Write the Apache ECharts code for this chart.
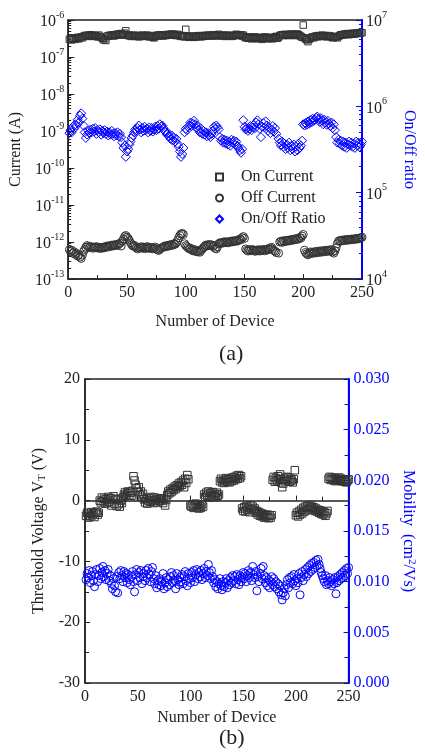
<!DOCTYPE html>
<html>
<head>
<meta charset="utf-8">
<script src="https://cdn.jsdelivr.net/npm/echarts@6/dist/echarts.min.js"></script>
<style>
  html, body { margin: 0; padding: 0; background: #fff; }
  #chart { width: 425px; height: 752px; }
</style>
</head>
<body>
<div id="chart"></div>
<script>
// Device index runs 1..250 for every series below.

// (a) On current, in units of 1e-7 A
const onCurrentE7 = [
  3.0, 3.2, 2.9, 3.1, 3.3, 3.0, 3.2, 3.4, 3.1, 3.3,
  3.5, 3.3, 3.6, 3.8, 3.7, 3.9, 3.6, 3.8, 4.0, 3.7,
  3.9, 3.6, 3.8, 3.7, 3.5, 3.9, 3.6, 3.4, 3.2, 2.9,
  3.1, 2.8, 3.6, 3.8, 3.7, 3.9, 3.8, 4.0, 3.7, 3.9,
  4.1, 3.9, 4.2, 4.0, 4.3, 3.9, 4.1, 4.4, 5.1, 4.0,
  3.8, 3.9, 3.6, 3.8, 3.7, 3.9, 3.6, 3.8, 3.7, 3.5,
  3.8, 3.6, 3.9, 3.7, 3.8, 3.6, 3.9, 3.7, 3.5, 3.8,
  3.6, 3.4, 3.3, 3.6, 3.8, 3.9, 3.7, 4.0, 3.8, 3.9,
  3.7, 4.0, 3.8, 3.9, 4.1, 3.9, 4.0, 4.2, 3.9, 4.1,
  4.0, 3.8, 4.1, 3.9, 3.7, 3.6, 3.8, 3.6, 3.5, 5.6,
  3.7, 3.5, 3.4, 3.6, 3.5, 3.7, 3.4, 3.6, 3.5, 3.7,
  3.6, 3.8, 3.5, 3.7, 3.6, 3.8, 3.7, 3.9, 3.7, 3.8,
  3.9, 3.7, 3.8, 4.0, 3.9, 3.7, 3.8, 4.1, 3.9, 3.8,
  3.7, 3.9, 3.8, 3.6, 3.8, 3.9, 3.7, 3.8, 3.6, 3.7,
  3.8, 3.9, 4.1, 4.0, 3.8, 3.9, 4.0, 3.7, 3.9, 3.5,
  3.3, 3.4, 3.2, 3.5, 3.3, 3.1, 3.4, 3.2, 3.5, 3.3,
  3.1, 3.3, 3.4, 3.2, 3.0, 3.3, 3.5, 3.2, 3.4, 3.1,
  3.3, 3.2, 3.4, 3.1, 3.3, 3.5, 3.6, 3.2, 3.4, 3.8,
  3.9, 4.0, 3.8, 4.1, 3.9, 4.0, 3.8, 4.1, 3.9, 4.2,
  4.0, 3.8, 4.1, 3.9, 4.2, 4.0, 3.8, 3.6, 3.4, 7.3,
  3.3, 3.1, 2.9, 2.6, 3.0, 3.2, 3.4, 3.5, 3.3, 3.6,
  3.7, 3.5, 3.8, 3.6, 3.7, 3.9, 3.6, 3.8, 3.7, 3.5,
  3.8, 3.6, 3.7, 3.5, 3.3, 3.4, 3.6, 3.5, 3.3, 3.6,
  3.8, 4.0, 3.9, 4.1, 4.0, 4.2, 4.1, 4.3, 4.0, 4.2,
  4.3, 4.1, 4.4, 4.2, 4.4, 4.3, 4.5, 4.4, 4.6, 4.5
];

// (a) Off current, in units of 1e-13 A (null = device not measured)
const offCurrentE13 = [
  6.2, 5.5, 6.0, 5.0, 5.4, 4.6, 4.9, 4.2, 4.5, 3.9,
  3.6, 4.4, 5.5, 6.3, 7.2, 8.0, 7.5, 7.0, 7.6, 7.2,
  6.8, 7.3, 7.0, 7.5, 6.9, 7.2, 6.7, 7.1, 6.8, 7.3,
  7.0, 7.4, 7.8, 7.3, 7.9, 7.6, 8.2, 7.8, 8.4, 8.0,
  8.6, 8.1, 8.8, 9.3, 7.8, 10.5, 12.0, 14.0, 15.0, 13.5,
  12.5, 11.0, 9.5, 8.5, 7.8, 8.2, 7.5, 7.0, 6.5, 7.2,
  6.8, 7.4, 6.9, 7.3, 6.6, 7.0, 7.5, 6.8, 7.2, 6.7,
  7.1, 6.5, 6.8, 7.3, 6.6, 6.2, 5.9, 6.4, 6.8, 7.1,
  7.3, 7.8, 7.4, 8.0, 7.7, 8.3, 8.0, 8.6, 8.2, 9.0,
  8.7, 9.5, 11.0, 13.0, 15.0, 16.5, 17.0, 16.0, 9.0, 8.0,
  7.5, 7.0, 6.5, 6.8, 6.2, 5.8, 6.3, 5.6, 5.9, 5.4,
  5.8, 5.3, 5.9, 6.4, 7.0, 7.6, 8.2, 7.8, 8.5, 8.0,
  8.6, 8.2, 7.6, 8.0, 6.8, 6.5, 7.4, 8.9, 9.5, 9.2,
  9.8, 9.4, 10.2, 9.7, 10.0, 9.5, 10.3, 9.9, 10.6, 10.1,
  10.8, 10.4, 11.0, 10.6, 11.3, 12.0, 11.5, 13.0, 14.0, 12.5,
  6.5, 6.0, 5.7, 6.2, 5.8, 6.3, 5.9, 6.1, 5.6, 6.0,
  5.8, 6.2, 5.7, 6.1, 5.9, 6.3, 5.8, 6.2, 6.0, 6.6,
  6.3, 6.8, 7.2, 6.4, 5.9, 5.6, 5.2, null, 5.0, 10.0,
  10.5, 9.8, 10.8, 10.2, 11.0, 10.5, 11.2, 10.7, 11.5, 11.0,
  11.8, 11.3, 12.2, 11.6, 12.5, 12.0, 13.2, 12.8, 14.5, 16.0,
  6.0, 5.2, 4.8, 4.5, 5.0, 5.4, 4.9, 5.3, 5.0, 5.5,
  5.1, 5.6, 5.2, 5.7, 5.3, 5.8, 5.4, 5.9, 5.5, 6.0,
  5.6, 6.1, 5.7, 6.2, 5.4, 5.0, 5.8, 7.0, 9.0, 10.5,
  11.0, 10.6, 11.3, 10.8, 11.5, 11.0, 11.7, 11.2, 11.8, 11.4,
  12.0, 11.6, 12.2, 11.8, 12.4, 12.0, 12.6, 12.3, 13.0, 13.5
];

// (a) On/Off ratio, in units of 1e5
const onOffRatioE5 = [
  4.9, 5.3, 5.0, 5.8, 5.5, 6.2, 6.0, 7.0, 6.5, 7.8,
  8.3, 7.2, 6.0, 5.0, 4.3, 4.7, 5.2, 4.9, 5.4, 5.0,
  5.5, 5.1, 5.6, 4.8, 5.3, 5.0, 5.4, 4.7, 5.2, 4.9,
  5.3, 4.8, 5.1, 4.6, 5.0, 4.7, 5.2, 4.8, 4.5, 4.9,
  4.6, 5.0, 4.5, 4.8, 4.4, 3.8, 3.3, 3.5, 2.6, 3.0,
  3.2, 3.6, 3.9, 4.3, 4.6, 5.0, 5.4, 5.1, 5.6, 6.0,
  5.4, 5.0, 5.6, 5.2, 5.8, 5.3, 5.5, 5.0, 5.7, 5.2,
  5.6, 5.1, 5.4, 5.8, 5.3, 5.9, 5.5, 6.2, 5.8, 6.0,
  5.6, 5.2, 5.0, 4.7, 4.9, 4.5, 4.2, 4.6, 4.0, 4.3,
  3.9, 4.2, 3.7, 3.4, 3.0, 2.6, 2.8, 3.3, 5.0, 5.5,
  5.3, 5.8, 6.0, 6.5, 5.9, 6.3, 6.8, 6.2, 5.6, 6.0,
  5.4, 5.0, 5.5, 4.8, 5.2, 4.7, 5.0, 4.5, 4.9, 4.6,
  4.4, 4.8, 5.2, 5.8, 5.5, 6.0, 5.7, 5.4, 4.4, 4.0,
  4.2, 3.8, 4.1, 3.7, 4.0, 3.6, 3.9, 3.5, 4.1, 3.8,
  4.0, 3.6, 3.9, 3.5, 3.3, 3.1, 2.9, 3.2, 6.9, 5.8,
  5.4, 5.6, 5.2, 5.5, 5.9, 5.3, 5.7, 6.1, 5.6, 6.5,
  6.9, 6.2, 5.5, 4.4, 5.8, 6.4, 5.7, 6.7, 6.0, 5.2,
  5.6, 4.9, 5.4, 5.9, 5.1, 5.6, 4.8, null, 4.2, 3.8,
  3.5, 3.9, 3.4, 3.7, 3.2, 3.6, 3.3, 3.8, 3.1, 3.5,
  3.2, 3.6, 3.0, 3.4, 3.1, 3.7, 3.3, 3.5, 4.0, 6.2,
  6.0, 6.4, 6.1, 6.7, 6.3, 6.9, 6.5, 7.2, 6.8, 7.0,
  7.4, 7.6, 7.1, 6.6, 7.3, 6.8, 6.2, 7.0, 6.5, 6.1,
  6.8, 6.3, 5.9, 6.5, 5.6, 6.2, 5.3, 4.4, 3.8, 4.1,
  3.7, 4.0, 3.5, 3.9, 3.4, 3.8, 3.3, 3.6, 3.9, 3.5,
  3.8, 3.4, 3.7, 3.3, 3.9, 3.5, 3.8, 3.4, 3.6, 3.9
];

// (b) Threshold voltage V_T in volts (null = device not measured)
const thresholdV = [
  -2.5, -2.0, -2.8, -2.2, -2.6, -1.9, -2.4, -2.1, -2.7, -2.0,
  -1.8, -2.3, -2.0, 0.0, -0.3, 0.5, -0.1, 0.3, -0.5, 0.2,
  -0.4, 0.6, -0.2, 0.4, -0.8, 0.1, 0.7, -0.5, 0.3, -0.9,
  0.2, -0.6, -1.0, 0.0, -0.4, 0.5, 1.0, 1.4, 0.8, 1.2,
  1.5, 0.9, 1.3, 0.8, 1.6, 4.0, 3.3, 2.6, 2.0, 1.4,
  2.2, 0.9, 1.5, 0.6, 1.1, 0.2, -0.3, 0.3, -0.5, 0.0,
  0.4, -0.2, 0.6, 0.1, -0.4, 0.5, 0.0, 0.3, -0.3, 0.2,
  -0.1, 0.4, 0.0, -0.4, 0.3, -0.8, 0.1, 0.9, 1.5, 1.2,
  1.8, 1.4, 2.0, 1.7, 2.3, 1.9, 2.5, 2.2, 2.8, 2.4,
  3.0, 2.6, 3.3, 2.2, 3.6, 2.9, 4.2, 3.5, null, -0.8,
  -1.0, -0.6, -1.2, -0.8, -0.5, -1.1, -0.7, -1.3, -0.9, -1.2,
  -0.6, -1.0, 1.0, 0.6, 1.3, 0.8, 1.5, 0.5, 1.2, 0.9,
  1.4, 0.7, 1.1, 0.6, 1.3, 0.8, 1.0, 3.2, 3.6, 3.0,
  3.4, 2.9, 3.3, 3.7, 3.1, 3.5, 3.0, 3.6, 3.2, 3.8,
  3.3, 3.9, 3.5, 4.1, 3.6, 4.2, 3.7, 4.0, -1.3, -1.7,
  -1.1, -1.8, -0.9, -1.5, -1.2, -1.9, -0.8, -1.4, -1.0, -1.6,
  -1.3, -2.0, -1.7, -2.3, -1.9, -2.5, -2.1, -2.6, -2.2, -2.8,
  -2.4, -2.7, -2.3, -2.9, -2.5, -2.8, -2.4, 3.4, 3.9, 3.1,
  3.7, 3.3, 4.0, 3.5, 4.3, 3.0, 2.2, 2.8, 3.6, 3.2,
  3.9, 3.4, 3.8, 3.1, 3.6, 3.3, 3.0, 3.5, 5.0, -2.4,
  -2.0, -2.6, -1.8, -2.3, -1.5, -2.1, -1.2, -1.8, -1.0, -1.6,
  -0.9, -1.4, -0.8, -1.2, -1.0, -1.5, -1.1, -1.7, -1.3, -1.8,
  -1.5, -2.0, -1.6, -2.2, -1.8, -2.3, -1.9, -2.5, -2.1, -1.7,
  3.6, 3.9, 3.4, 3.8, 3.5, 3.3, 3.7, 3.2, 3.6, 3.4,
  3.8, 3.3, 3.6, 3.2, 3.5, 3.1, 3.4, 3.0, 3.3, 3.5
];

// (b) Field-effect mobility in cm^2/Vs
const mobility = [
  0.0102, 0.0108, 0.0104, 0.0111, 0.0099, 0.0106, 0.0110, 0.0101, 0.0095, 0.0107,
  0.0112, 0.0100, 0.0106, 0.0113, 0.0103, 0.0109, 0.0115, 0.0105, 0.0111, 0.0102,
  0.0108, 0.0112, 0.0101, 0.0106, 0.0098, 0.0093, 0.0103, 0.0096, 0.0090, 0.0105,
  0.0089, 0.0109, 0.0103, 0.0111, 0.0106, 0.0100, 0.0110, 0.0104, 0.0108, 0.0099,
  0.0107, 0.0102, 0.0097, 0.0105, 0.0110, 0.0100, 0.0090, 0.0107, 0.0112, 0.0101,
  0.0109, 0.0104, 0.0111, 0.0098, 0.0105, 0.0108, 0.0101, 0.0111, 0.0104, 0.0113,
  0.0107, 0.0100, 0.0110, 0.0114, 0.0103, 0.0098, 0.0106, 0.0094, 0.0101, 0.0097,
  0.0103, 0.0096, 0.0100, 0.0108, 0.0093, 0.0099, 0.0104, 0.0095, 0.0102, 0.0097,
  0.0105, 0.0109, 0.0099, 0.0106, 0.0101, 0.0093, 0.0108, 0.0102, 0.0097, 0.0104,
  0.0100, 0.0107, 0.0098, 0.0105, 0.0110, 0.0101, 0.0096, 0.0108, 0.0103, 0.0099,
  0.0109, 0.0104, 0.0111, 0.0100, 0.0107, 0.0112, 0.0103, 0.0109, 0.0105, 0.0111,
  0.0102, 0.0108, 0.0113, 0.0104, 0.0110, 0.0106, 0.0117, 0.0109, 0.0103, 0.0111,
  0.0105, 0.0099, 0.0102, 0.0095, 0.0100, 0.0093, 0.0098, 0.0103, 0.0096, 0.0092,
  0.0100, 0.0095, 0.0099, 0.0103, 0.0094, 0.0101, 0.0097, 0.0104, 0.0099, 0.0106,
  0.0101, 0.0105, 0.0098, 0.0107, 0.0102, 0.0097, 0.0106, 0.0100, 0.0104, 0.0109,
  0.0103, 0.0108, 0.0100, 0.0106, 0.0111, 0.0104, 0.0109, 0.0101, 0.0115, 0.0107,
  0.0104, 0.0110, 0.0091, 0.0105, 0.0100, 0.0108, 0.0113, 0.0103, 0.0115, 0.0106,
  0.0099, 0.0104, 0.0096, 0.0102, 0.0094, 0.0100, 0.0105, 0.0097, 0.0103, 0.0095,
  0.0100, 0.0093, 0.0098, 0.0090, 0.0096, 0.0087, 0.0082, 0.0089, 0.0093, 0.0086,
  0.0097, 0.0102, 0.0094, 0.0104, 0.0099, 0.0105, 0.0098, 0.0107, 0.0101, 0.0096,
  0.0103, 0.0099, 0.0108, 0.0087, 0.0104, 0.0110, 0.0101, 0.0107, 0.0112, 0.0105,
  0.0114, 0.0108, 0.0116, 0.0110, 0.0118, 0.0112, 0.0119, 0.0114, 0.0121, 0.0116,
  0.0122, 0.0117, 0.0113, 0.0109, 0.0106, 0.0103, 0.0100, 0.0106, 0.0097, 0.0101,
  0.0098, 0.0104, 0.0100, 0.0096, 0.0102, 0.0098, 0.0104, 0.0088, 0.0099, 0.0105,
  0.0101, 0.0107, 0.0103, 0.0109, 0.0104, 0.0111, 0.0106, 0.0113, 0.0108, 0.0114
];

// Axis ranges and tick labels
const deviceTicks = [0, 50, 100, 150, 200, 250];
const currentRange = [1e-13, 1e-6];
const ratioRange = [1e4, 1e7];
const voltageRange = [-30, 20];
const mobilityRange = [0, 0.03];

const FONT = '"Liberation Serif", "Times New Roman", serif';
const INK = '#222';
const BLUE = '#0000ff';
const HOLLOW = 'rgba(255,255,255,0)';

function pairs(values, unit) {
  const out = [];
  values.forEach((v, i) => {
    if (v !== null) out.push([i + 1, v * unit]);
  });
  return out;
}

function powerLabel(value) {
  const e = Math.round(Math.log10(value));
  return '{b|10}{s|' + e + '}';
}

function powerRich(color) {
  return {
    b: { fontFamily: FONT, fontSize: 16, color: color, lineHeight: 20, verticalAlign: 'bottom' },
    s: { fontFamily: FONT, fontSize: 10, color: color, lineHeight: 20, verticalAlign: 'top', padding: [0, 0, 8, 0] }
  };
}

function xAxisFor(gridIndex, gap) {
  return {
    gridIndex: gridIndex,
    type: 'value',
    min: deviceTicks[0],
    max: deviceTicks[deviceTicks.length - 1],
    interval: deviceTicks[1] - deviceTicks[0],
    name: 'Number of Device',
    nameLocation: 'middle',
    nameGap: gap,
    nameTextStyle: { fontFamily: FONT, fontSize: 16, color: INK },
    axisLine: { show: true, lineStyle: { color: INK, width: 1.5 } },
    axisTick: { show: true, inside: true, length: 5, lineStyle: { color: INK, width: 1 } },
    minorTick: { show: true, splitNumber: 2, length: 4, lineStyle: { color: INK, width: 1 } },
    axisLabel: { fontFamily: FONT, fontSize: 16, color: INK, margin: 6 },
    splitLine: { show: false }
  };
}

const chart = echarts.init(document.getElementById('chart'), null, { renderer: 'canvas' });

const option = {
  animation: false,
  backgroundColor: '#fff',
  grid: [
    { left: 66, top: 20, width: 309, height: 259, show: true, borderColor: INK, borderWidth: 1.5, backgroundColor: 'transparent' },
    { left: 85, top: 379, width: 274, height: 304, show: true, borderColor: INK, borderWidth: 1.5, backgroundColor: 'transparent' }
  ],
  legend: {
    left: 210,
    top: 164,
    orient: 'vertical',
    itemWidth: 7,
    itemHeight: 7,
    itemGap: 5,
    data: ['On Current', 'Off Current', 'On/Off Ratio'],
    textStyle: { fontFamily: FONT, fontSize: 16, color: INK, padding: [0, 0, 0, 13] }
  },
  xAxis: [xAxisFor(0, 35), xAxisFor(1, 27)],
  yAxis: [
    {
      gridIndex: 0,
      type: 'log',
      logBase: 10,
      min: currentRange[0],
      max: currentRange[1],
      splitNumber: 7,
      position: 'left',
      name: 'Current (A)',
      nameLocation: 'middle',
      nameGap: 40,
      nameTextStyle: { fontFamily: FONT, fontSize: 16, color: INK },
      axisLine: { show: true, lineStyle: { color: INK, width: 1.5 } },
      axisTick: { show: true, inside: true, length: 6, lineStyle: { color: INK, width: 1 } },
      minorTick: { show: true, splitNumber: 9, length: 3, lineStyle: { color: INK, width: 1 } },
      axisLabel: { formatter: powerLabel, rich: powerRich(INK), margin: 4 },
      splitLine: { show: false }
    },
    {
      gridIndex: 0,
      type: 'log',
      logBase: 10,
      min: ratioRange[0],
      max: ratioRange[1],
      splitNumber: 3,
      position: 'right',
      name: 'On/Off ratio',
      nameLocation: 'middle',
      nameRotate: -90,
      nameGap: 39,
      nameTextStyle: { fontFamily: FONT, fontSize: 16, color: BLUE },
      axisLine: { show: true, lineStyle: { color: BLUE, width: 2 } },
      axisTick: { show: true, inside: true, length: 6, lineStyle: { color: BLUE, width: 1 } },
      minorTick: { show: true, splitNumber: 9, length: 3, lineStyle: { color: BLUE, width: 1 } },
      axisLabel: { formatter: powerLabel, rich: powerRich(INK), margin: 4 },
      splitLine: { show: false }
    },
    {
      gridIndex: 1,
      type: 'value',
      min: voltageRange[0],
      max: voltageRange[1],
      interval: 10,
      position: 'left',
      name: 'Threshold Voltage V{sub|T} (V)',
      nameLocation: 'middle',
      nameGap: 24,
      nameTextStyle: {
        fontFamily: FONT, fontSize: 16, color: INK,
        rich: { sub: { fontFamily: FONT, fontSize: 11, color: INK, verticalAlign: 'bottom', padding: [6, 0, 0, 0] } }
      },
      axisLine: { show: true, lineStyle: { color: INK, width: 1.5 } },
      axisTick: { show: true, inside: true, length: 5, lineStyle: { color: INK, width: 1 } },
      minorTick: { show: true, splitNumber: 2, length: 4, lineStyle: { color: INK, width: 1 } },
      axisLabel: { fontFamily: FONT, fontSize: 16, color: INK, margin: 5 },
      splitLine: { show: false }
    },
    {
      gridIndex: 1,
      type: 'value',
      min: mobilityRange[0],
      max: mobilityRange[1],
      interval: 0.005,
      position: 'right',
      name: 'Mobility  (cm{sup|2}/Vs)',
      nameLocation: 'middle',
      nameRotate: -90,
      nameGap: 49,
      nameTextStyle: {
        fontFamily: FONT, fontSize: 16, color: BLUE,
        rich: { sup: { fontFamily: FONT, fontSize: 11, color: BLUE, verticalAlign: 'top', padding: [0, 0, 6, 0] } }
      },
      axisLine: { show: true, lineStyle: { color: BLUE, width: 2 } },
      axisTick: { show: true, inside: true, length: 5, lineStyle: { color: BLUE, width: 1 } },
      minorTick: { show: true, splitNumber: 2, length: 4, lineStyle: { color: BLUE, width: 1 } },
      axisLabel: { fontFamily: FONT, fontSize: 16, color: BLUE, margin: 5, formatter: v => v.toFixed(3) },
      splitLine: { show: false }
    }
  ],
  graphic: [
    { type: 'text', left: 219, top: 343, style: { text: '(a)', font: '22px ' + FONT, fill: INK } },
    { type: 'text', left: 219, top: 727, style: { text: '(b)', font: '22px ' + FONT, fill: INK } }
  ],
  series: [
    {
      name: 'On Current', type: 'scatter', xAxisIndex: 0, yAxisIndex: 0,
      symbol: 'rect', symbolSize: 6.5,
      itemStyle: { color: HOLLOW, borderColor: '#333', borderWidth: 1, opacity: 1 },
      data: pairs(onCurrentE7, 1e-7)
    },
    {
      name: 'Off Current', type: 'scatter', xAxisIndex: 0, yAxisIndex: 0,
      symbol: 'circle', symbolSize: 8,
      itemStyle: { color: HOLLOW, borderColor: '#333', borderWidth: 1, opacity: 1 },
      data: pairs(offCurrentE13, 1e-13)
    },
    {
      name: 'On/Off Ratio', type: 'scatter', xAxisIndex: 0, yAxisIndex: 1,
      symbol: 'diamond', symbolSize: 9,
      itemStyle: { color: HOLLOW, borderColor: BLUE, borderWidth: 1, opacity: 1 },
      data: pairs(onOffRatioE5, 1e5)
    },
    {
      name: 'Threshold Voltage', type: 'scatter', xAxisIndex: 1, yAxisIndex: 2,
      symbol: 'rect', symbolSize: 7.5,
      itemStyle: { color: HOLLOW, borderColor: '#333', borderWidth: 1, opacity: 1 },
      data: pairs(thresholdV, 1)
    },
    {
      name: 'Mobility', type: 'scatter', xAxisIndex: 1, yAxisIndex: 3,
      symbol: 'circle', symbolSize: 8,
      itemStyle: { color: HOLLOW, borderColor: BLUE, borderWidth: 1, opacity: 1 },
      data: pairs(mobility, 1)
    }
  ]
};

chart.setOption(option);
</script>
</body>
</html>
